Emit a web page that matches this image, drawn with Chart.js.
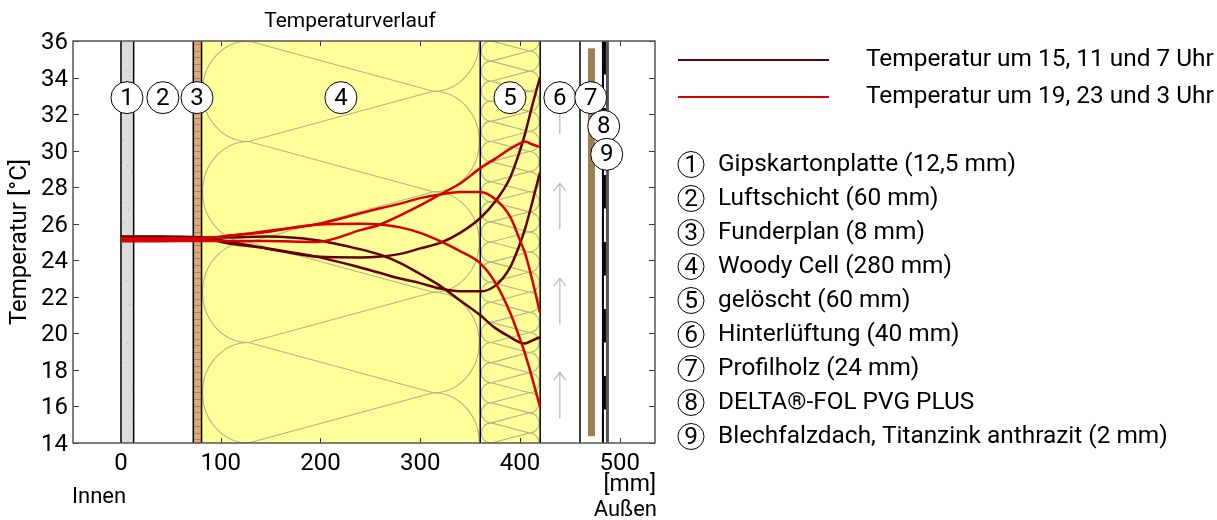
<!DOCTYPE html>
<html>
<head>
<meta charset="utf-8">
<style>
  html, body { margin: 0; padding: 0; background: #fff; }
  canvas { display: block; }
</style>
<script src="https://cdn.jsdelivr.net/npm/chart.js@4"></script>
</head>
<body>
<canvas id="my-chart" width="1217" height="520"></canvas>
<script>
const positions = [0, 40, 80, 110, 146, 196, 240, 260, 280, 300, 320, 340, 360, 375, 390, 400, 405, 412, 420];

const dark1 = [25.3, 25.3, 25.25, 25.0, 24.65, 24.2, 24.15, 24.2, 24.35, 24.65, 24.95, 25.5, 26.3, 27.2, 28.5, 30.0, 30.9, 32.4, 34.0];
const dark2 = [25.27, 25.27, 25.22, 24.9, 24.65, 24.2, 23.6, 23.3, 23.0, 22.75, 22.45, 22.3, 22.3, 22.6, 23.6, 24.9, 25.7, 27.1, 28.8];
const dark3 = [25.24, 25.24, 25.24, 25.25, 25.3, 25.1, 24.6, 24.3, 23.85, 23.25, 22.6, 21.8, 21.0, 20.3, 19.8, 19.5, 19.45, 19.6, 19.8];
const red1 = [25.04, 25.04, 25.06, 25.05, 25.05, 25.0, 25.65, 25.96, 26.46, 27.0, 27.6, 28.2, 29.03, 29.55, 30.1, 30.4, 30.5, 30.35, 30.2];
const red2 = [25.2, 25.2, 25.2, 25.35, 25.6, 25.97, 26.57, 26.85, 27.1, 27.4, 27.6, 27.73, 27.73, 27.35, 26.4, 25.1, 24.4, 23.0, 21.15];
const red3 = [25.12, 25.12, 25.15, 25.35, 25.55, 25.95, 26.0, 25.96, 25.8, 25.5, 25.05, 24.5, 23.84, 22.8, 21.15, 19.7, 18.9, 17.6, 16.0];

const layerNumbers = ["1", "2", "3", "4", "5", "6", "7", "8", "9"];
const layerNames = [
  "Gipskartonplatte (12,5 mm)",
  "Luftschicht (60 mm)",
  "Funderplan (8 mm)",
  "Woody Cell (280 mm)",
  "gelöscht (60 mm)",
  "Hinterlüftung (40 mm)",
  "Profilholz (24 mm)",
  "DELTA®-FOL PVG PLUS",
  "Blechfalzdach, Titanzink anthrazit (2 mm)",
];
const markerX = [6, 42, 76.2, 220.5, 390, 440, 471, 484, 487];
const markerY = [32.9, 32.9, 32.9, 32.9, 32.9, 32.9, 32.9, 31.33, 29.8];

const seriesNames = ["Temperatur um 15, 11 und 7 Uhr", "Temperatur um 19, 23 und 3 Uhr"];
const boundaries = [0, 12.7, 72.5, 80.8, 360.2, 420.3, 460.2];
const gipsSpeckX = [3, 5, 8, 9, 2, 6, 10, 4, 7, 3, 9, 5, 8, 2, 6, 4, 10, 7];
const gipsSpeckY = [35.2, 34.4, 34.1, 33.9, 30.6, 29.2, 28.9, 27.2, 26.8, 26.1, 23.7, 22.9, 21.6, 20.9, 19.5, 18.4, 17.1, 15.5];
const arrowTails = [15.35, 20.5, 25.7, 30.9];

const font = "Roboto";
const darkRed = "#640000";
const brightRed = "#d60000";

const curve = (values, color) => ({
  type: "line",
  data: positions.map((x, i) => ({ x: x, y: values[i] })),
  borderColor: color,
  borderWidth: 2.5,
  pointRadius: 0,
  cubicInterpolationMode: "monotone",
  order: color === darkRed ? 3 : 2,
});

// insulation symbol: loops on both sides joined by diagonal lines
function insulation(ctx, left, right, top, bottom, loops) {
  const w = right - left;
  const pitch = (bottom - top) / loops;
  const r = pitch / 2;
  const hr = w * 0.165;
  ctx.save();
  ctx.beginPath();
  ctx.rect(left, top, w, bottom - top);
  ctx.clip();
  ctx.strokeStyle = "#b3b38a";
  ctx.lineWidth = 1.1;
  const lx = left + hr + 1;
  const rx = right - hr - 1;
  for (let k = -1; k <= loops; k++) {
    const y = top + k * pitch;
    ctx.beginPath();
    ctx.ellipse(lx, y + r, hr, r, 0, Math.PI / 2, Math.PI * 1.5);
    ctx.stroke();
    ctx.beginPath();
    ctx.ellipse(rx, y + pitch, hr, r, 0, -Math.PI / 2, Math.PI / 2);
    ctx.stroke();
    ctx.beginPath();
    ctx.moveTo(lx, y);
    ctx.lineTo(rx, y + r);
    ctx.lineTo(lx, y + pitch);
    ctx.stroke();
  }
  ctx.restore();
}

const wallPlugin = {
  id: "wall",
  beforeDatasetsDraw(chart) {
    const { ctx, chartArea, scales } = chart;
    const px = (v) => scales.x.getPixelForValue(v);
    const py = (v) => scales.y.getPixelForValue(v);
    const top = chartArea.top;
    const bottom = chartArea.bottom;

    ctx.save();
    // gips
    ctx.fillStyle = "#dcdcdc";
    ctx.fillRect(px(0), top, px(12.7) - px(0), bottom - top);
    ctx.fillStyle = "#a8a8a8";
    gipsSpeckX.forEach((x, i) => ctx.fillRect(px(x), py(gipsSpeckY[i]), 1, 1));

    // funderplan
    ctx.fillStyle = "#dcaa78";
    ctx.fillRect(px(72.5), top, px(80.8) - px(72.5), bottom - top);
    ctx.strokeStyle = "#a88560";
    ctx.lineWidth = 1;
    for (let y = top + 3; y < bottom; y += 6.7) {
      ctx.beginPath();
      ctx.moveTo(px(72.5), Math.round(y) + 0.5);
      ctx.lineTo(px(80.8), Math.round(y) + 0.5);
      ctx.stroke();
    }

    // insulation layers
    ctx.fillStyle = "#ffff99";
    ctx.fillRect(px(80.8), top, px(420.3) - px(80.8), bottom - top);
    insulation(ctx, px(80.8), px(360.2), top, bottom, 4);
    insulation(ctx, px(360.2), px(420.3), top, bottom, 20);

    // arrows in the ventilated gap
    ctx.strokeStyle = "#b9b9b9";
    ctx.lineWidth = 1.2;
    arrowTails.forEach((t) => {
      const yTail = py(t);
      const yTip = yTail - 46;
      ctx.beginPath();
      ctx.moveTo(px(440), yTail);
      ctx.lineTo(px(440), yTip);
      ctx.moveTo(px(440) - 6, yTip + 8);
      ctx.lineTo(px(440), yTip);
      ctx.lineTo(px(440) + 6, yTip + 8);
      ctx.stroke();
    });

    // profilholz
    ctx.fillStyle = "#a07d50";
    ctx.fillRect(px(468.2), py(35.6), px(475.2) - px(468.2), py(14.37) - py(35.6));

    // foil and metal roof
    ctx.fillStyle = "#000";
    ctx.fillRect(px(482.2), top, px(484.2) - px(482.2), bottom - top);
    for (let y = top; y < bottom; y += 67) {
      ctx.fillRect(px(484.2), y, px(486.2) - px(484.2), 33.5);
    }
    ctx.fillStyle = "#555";
    ctx.fillRect(px(486.2), top, px(489.2) - px(486.2), bottom - top);

    // layer borders
    ctx.strokeStyle = "#000";
    ctx.lineWidth = 1.5;
    boundaries.forEach((b) => {
      ctx.beginPath();
      ctx.moveTo(px(b), top);
      ctx.lineTo(px(b), bottom);
      ctx.stroke();
    });
    ctx.restore();
  },
  afterDatasetsDraw(chart) {
    const { ctx, chartArea, scales } = chart;
    const { left, right, top, bottom } = chartArea;
    ctx.save();
    // inward tick marks
    ctx.strokeStyle = "#333";
    ctx.lineWidth = 1;
    scales.x.ticks.forEach((t) => {
      const x = Math.round(scales.x.getPixelForValue(t.value)) + 0.5;
      ctx.beginPath();
      ctx.moveTo(x, top);
      ctx.lineTo(x, top + 5);
      ctx.moveTo(x, bottom);
      ctx.lineTo(x, bottom - 5);
      ctx.stroke();
    });
    scales.y.ticks.forEach((t) => {
      const y = Math.round(scales.y.getPixelForValue(t.value)) + 0.5;
      ctx.beginPath();
      ctx.moveTo(left, y);
      ctx.lineTo(left + 6, y);
      ctx.moveTo(right, y);
      ctx.lineTo(right - 6, y);
      ctx.stroke();
    });
    // frame
    ctx.strokeStyle = "#555";
    ctx.lineWidth = 1.5;
    ctx.strokeRect(left, top, right - left, bottom - top);
    // marker numbers
    ctx.fillStyle = "#000";
    ctx.textAlign = "center";
    ctx.textBaseline = "middle";
    ctx.font = "24px " + font;
    layerNumbers.forEach((n, i) => {
      ctx.fillText(n, scales.x.getPixelForValue(markerX[i]), scales.y.getPixelForValue(markerY[i]) + 1);
    });
    ctx.restore();
  },
  afterDraw(chart) {
    const { ctx } = chart;
    ctx.save();
    ctx.fillStyle = "#000";
    ctx.textBaseline = "middle";

    ctx.textAlign = "center";
    ctx.font = "21px " + font;
    ctx.fillText("Temperaturverlauf", 350, 22);

    ctx.font = "23px " + font;
    ctx.textAlign = "right";
    ctx.fillText("[mm]", 656, 485);
    ctx.font = "22px " + font;
    ctx.fillText("Außen", 657, 510);
    ctx.textAlign = "left";
    ctx.fillText("Innen", 72, 497);

    // line legend
    ctx.font = "24.4px " + font;
    [darkRed, brightRed].forEach((c, i) => {
      const y = 60 + i * 37;
      ctx.strokeStyle = c;
      ctx.lineWidth = 2;
      ctx.beginPath();
      ctx.moveTo(678, y);
      ctx.lineTo(829, y);
      ctx.stroke();
      ctx.fillText(seriesNames[i], 866, y);
    });

    // layer legend
    layerNames.forEach((name, i) => {
      const y = 164.5 + i * 34;
      ctx.beginPath();
      ctx.arc(691, y, 13, 0, Math.PI * 2);
      ctx.strokeStyle = "#000";
      ctx.lineWidth = 1;
      ctx.stroke();
      ctx.textAlign = "center";
      ctx.fillText(layerNumbers[i], 691, y + 1);
      ctx.textAlign = "left";
      ctx.fillText(name, 718, y);
    });
    ctx.restore();
  },
};

const config = {
  type: "line",
  data: {
    datasets: [
      curve(dark1, darkRed),
      curve(dark2, darkRed),
      curve(dark3, darkRed),
      curve(red1, brightRed),
      curve(red2, brightRed),
      curve(red3, brightRed),
      {
        type: "scatter",
        data: markerX.map((x, i) => ({ x: x, y: markerY[i] })),
        backgroundColor: "#fff",
        borderColor: "#000",
        borderWidth: 1,
        pointRadius: 16,
        order: 1,
      },
    ],
  },
  options: {
    responsive: false,
    animation: false,
    layout: {
      padding: { left: 0, top: 41, right: 562, bottom: 0 },
    },
    plugins: {
      legend: { display: false },
      tooltip: { enabled: false },
    },
    scales: {
      x: {
        type: "linear",
        min: -48.1,
        max: 535.4,
        afterFit(scale) {
          scale.height = 77;
        },
        grid: { display: false, drawTicks: false },
        border: { display: false },
        ticks: {
          stepSize: 100,
          includeBounds: false,
          maxRotation: 0,
          color: "#000",
          padding: 7,
          font: { family: font, size: 24 },
        },
      },
      y: {
        min: 14,
        max: 36,
        afterFit(scale) {
          scale.width = 73;
        },
        grid: { display: false, drawTicks: false },
        border: { display: false },
        title: {
          display: true,
          text: "Temperatur [°C]",
          color: "#000",
          padding: { top: 6, bottom: 0 },
          font: { family: font, size: 24 },
        },
        ticks: {
          stepSize: 2,
          color: "#000",
          padding: 5,
          labelOffset: 2,
          font: { family: font, size: 24 },
        },
      },
    },
  },
  plugins: [wallPlugin],
};

const myChart = new Chart(document.getElementById("my-chart"), config);
</script>
</body>
</html>
